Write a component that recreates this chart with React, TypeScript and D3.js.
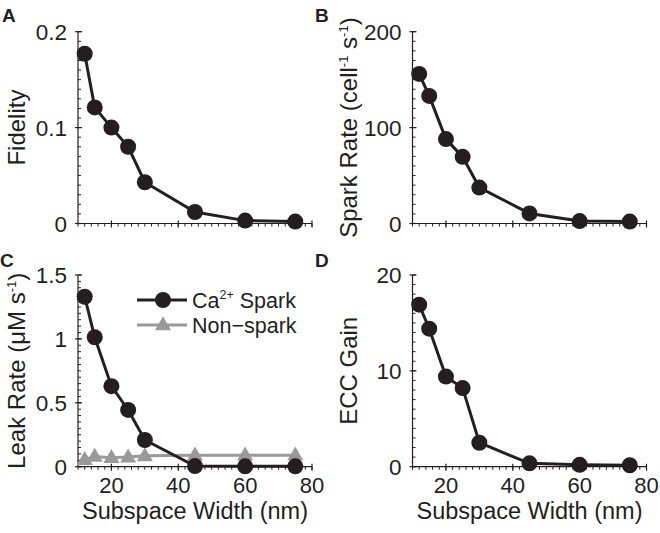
import React from "react";
import * as d3 from "d3";

const widths = [12, 15, 20, 25, 30, 45, 60, 75];
const fidelity = [0.177, 0.121, 0.1, 0.08, 0.043, 0.012, 0.003, 0.002];
const sparkRate = [156, 133, 88, 69.5, 37.5, 10.5, 2.5, 2];
const leakSpark = [1.33, 1.013, 0.63, 0.444, 0.209, 0.005, 0.003, 0.003];
const leakNonSpark = [0.055, 0.08, 0.07, 0.075, 0.085, 0.09, 0.09, 0.09];
const eccGain = [16.9, 14.4, 9.4, 8.2, 2.5, 0.35, 0.2, 0.15];

const xTicks = [20, 40, 60, 80];
const xTickLabels = ["20", "40", "60", "80"];
const xLabel = "Subspace Width (nm)";
const legendLabels = ["Ca", "Non\u2212spark"];

const DARK = "#231f20";
const GRAY = "#999999";
const FONT = "'Liberation Sans', Arial, Helvetica, sans-serif";

type Panel = {
  letter: string;
  lx: number;
  ly: number;
  xr: [number, number];
  yr: [number, number];
  ymax: number;
  yTicks: number[];
  yTickLabels: string[];
  minor: number;
  series: number[];
  extra?: number[];
  showX: boolean;
  labelX: number;
  label: React.ReactNode;
};

const panels: Panel[] = [
  {
    letter: "A", lx: 2, ly: 22, xr: [78, 312], yr: [223.5, 31.7], ymax: 0.2,
    yTicks: [0, 0.1, 0.2], yTickLabels: ["0", "0.1", "0.2"], minor: 0.01,
    series: fidelity, showX: false, labelX: 25, label: "Fidelity",
  },
  {
    letter: "B", lx: 315, ly: 22, xr: [412.5, 646.5], yr: [223.5, 31.7], ymax: 200,
    yTicks: [0, 100, 200], yTickLabels: ["0", "100", "200"], minor: 10,
    series: sparkRate, showX: false, labelX: 357,
    label: (
      <>
        Spark Rate (cell
        <tspan fontSize={13} dy={-9}>-1</tspan>
        <tspan dy={9}> s</tspan>
        <tspan fontSize={13} dy={-9}>-1</tspan>
        <tspan dy={9}>)</tspan>
      </>
    ),
  },
  {
    letter: "C", lx: 0, ly: 267, xr: [78, 312], yr: [466.7, 275], ymax: 1.5,
    yTicks: [0, 0.5, 1, 1.5], yTickLabels: ["0", "0.5", "1", "1.5"], minor: 0.05,
    series: leakSpark, extra: leakNonSpark, showX: true, labelX: 25,
    label: (
      <>
        Leak Rate (μM s
        <tspan fontSize={13} dy={-9}>-1</tspan>
        <tspan dy={9}>)</tspan>
      </>
    ),
  },
  {
    letter: "D", lx: 315, ly: 267, xr: [412.5, 646.5], yr: [466.7, 275], ymax: 20,
    yTicks: [0, 10, 20], yTickLabels: ["0", "10", "20"], minor: 1,
    series: eccGain, showX: true, labelX: 357, label: "ECC Gain",
  },
];

function tri(cx: number, cy: number, s: number) {
  const h = s * 0.87;
  return `M${cx},${cy - h * 0.62} L${cx + s / 2},${cy + h * 0.38} L${cx - s / 2},${cy + h * 0.38} Z`;
}

function PanelView({ p }: { p: Panel }) {
  const x = d3.scaleLinear().domain([10, 80]).range(p.xr);
  const y = d3.scaleLinear().domain([0, p.ymax]).range(p.yr);
  const line = d3
    .line<number>()
    .x((_, i) => x(widths[i]))
    .y((d) => y(d));
  const xMinor = d3.range(10, 80.001, 2);
  const yMinor = d3.range(0, p.ymax + p.minor / 2, p.minor);
  const x0 = p.xr[0];
  const y0 = p.yr[0];
  const midY = (p.yr[0] + p.yr[1]) / 2;
  const midX = (p.xr[0] + p.xr[1]) / 2;
  return (
    <g>
      <text x={p.lx} y={p.ly} fontSize={19} fontWeight="bold" fill={DARK}>{p.letter}</text>
      <line x1={x0} x2={x0} y1={y(0)} y2={y(p.ymax)} stroke={DARK} strokeWidth={1.2} />
      <line x1={x0} x2={x(80)} y1={y0} y2={y0} stroke={DARK} strokeWidth={1.2} />
      {yMinor.map((v, i) => (
        <line key={"ym" + i} x1={x0} x2={x0 + 3} y1={y(v)} y2={y(v)} stroke={DARK} strokeWidth={1} />
      ))}
      {p.yTicks.map((v, i) => (
        <g key={"yt" + i}>
          <line x1={x0 - 3} x2={x0 + 4} y1={y(v)} y2={y(v)} stroke={DARK} strokeWidth={1.2} />
          <text x={x0 - 11} y={y(v)} dy="0.36em" textAnchor="end" fontSize={22.5} fill={DARK}>
            {p.yTickLabels[i]}
          </text>
        </g>
      ))}
      {xMinor.map((v, i) => (
        <line key={"xm" + i} x1={x(v)} x2={x(v)} y1={y0} y2={y0 + 3} stroke={DARK} strokeWidth={1} />
      ))}
      {xTicks.map((v, i) => (
        <g key={"xt" + i}>
          <line x1={x(v)} x2={x(v)} y1={y0 - 3} y2={y0 + 4} stroke={DARK} strokeWidth={1.2} />
          {p.showX && (
            <text x={x(v)} y={y0 + 26.5} textAnchor="middle" fontSize={22} fill={DARK}>
              {xTickLabels[i]}
            </text>
          )}
        </g>
      ))}
      {p.showX && (
        <text x={midX} y={y0 + 52.5} textAnchor="middle" fontSize={23.5} fill={DARK}>{xLabel}</text>
      )}
      <text
        transform={`translate(${p.labelX},${midY}) rotate(-90)`}
        textAnchor="middle"
        fontSize={24}
        fill={DARK}
      >
        {p.label}
      </text>
      {p.extra && (
        <g>
          <path d={line(p.extra) || ""} fill="none" stroke={GRAY} strokeWidth={3} />
          {p.extra.map((v, i) => (
            <path key={"tr" + i} d={tri(x(widths[i]), y(v), 16)} fill={GRAY} />
          ))}
        </g>
      )}
      <path d={line(p.series) || ""} fill="none" stroke={DARK} strokeWidth={3} />
      {p.series.map((v, i) => (
        <circle key={"c" + i} cx={x(widths[i])} cy={y(v)} r={8} fill={DARK} />
      ))}
      {p.extra && (
        <g>
          <line x1={137} x2={187} y1={300} y2={300} stroke={DARK} strokeWidth={3} />
          <circle cx={163} cy={300} r={8} fill={DARK} />
          <text x={192} y={307.5} fontSize={21.5} fill={DARK}>
            {legendLabels[0]}
            <tspan fontSize={12.5} dy={-9}>2+</tspan>
            <tspan dy={9}> Spark</tspan>
          </text>
          <line x1={137} x2={187} y1={325} y2={325} stroke={GRAY} strokeWidth={3} />
          <path d={tri(163, 325, 16)} fill={GRAY} />
          <text x={192} y={332.5} fontSize={21.5} fill={DARK}>{legendLabels[1]}</text>
        </g>
      )}
    </g>
  );
}

export default function App() {
  return (
    <svg
      width={660}
      height={533}
      style={{ position: "absolute", left: 0, top: 0, background: "#fff" }}
      fontFamily={FONT}
    >
      <rect width={660} height={533} fill="#fff" />
      {panels.map((p) => (
        <PanelView key={p.letter} p={p} />
      ))}
    </svg>
  );
}
